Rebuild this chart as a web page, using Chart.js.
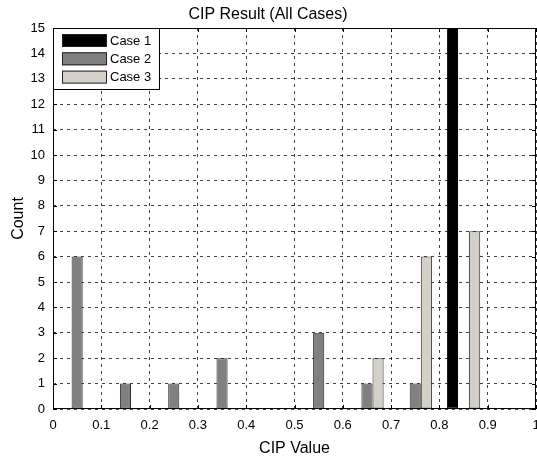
<!DOCTYPE html>
<html>
<head>
<meta charset="utf-8">
<script src="https://cdn.jsdelivr.net/npm/chart.js@4.4.0/dist/chart.umd.min.js"></script>
<style>
  html, body { margin: 0; padding: 0; background: #fff; }
  #wrap { width: 537px; height: 458px; }
</style>
</head>
<body>
<div id="wrap"><canvas id="cipChart"></canvas></div>
<script>
// histogram bins (centres) and counts per case
const binCenters = ["0.05", "0.15", "0.25", "0.35", "0.45", "0.55", "0.65", "0.75", "0.85", "0.95"];
const case1 = [0, 0, 0, 0, 0, 0, 0, 0, 15, 0];
const case2 = [6, 1, 1, 2, 0, 3, 1, 1, 0, 0];
const case3 = [0, 0, 0, 0, 0, 0, 2, 6, 7, 0];
const xTickLabels = ["0", "0.1", "0.2", "0.3", "0.4", "0.5", "0.6", "0.7", "0.8", "0.9", "1"];

const fontFamily = "'Liberation Sans', Arial, sans-serif";

// box round the axes, inward tick marks and the boxed legend (matlab look)
const frame = {
  id: "frame",
  afterDatasetsDraw(chart) {
    const { ctx, chartArea: a, scales } = chart;
    ctx.save();
    ctx.strokeStyle = "#000";
    ctx.lineWidth = 1;
    ctx.beginPath();
    scales.y.ticks.forEach((t) => {
      const py = Math.round(scales.y.getPixelForValue(t.value)) + 0.5;
      ctx.moveTo(a.left, py); ctx.lineTo(a.left + 4, py);
      ctx.moveTo(a.right, py); ctx.lineTo(a.right - 4, py);
    });
    scales.x2.ticks.forEach((t) => {
      const px = Math.round(scales.x2.getPixelForValue(t.value)) + 0.5;
      ctx.moveTo(px, a.bottom); ctx.lineTo(px, a.bottom - 4);
      ctx.moveTo(px, a.top); ctx.lineTo(px, a.top + 4);
    });
    ctx.stroke();
    ctx.strokeRect(a.left + 0.5, a.top + 0.5, a.right - a.left - 1, a.bottom - a.top - 1);

    // legend
    const lx = a.left + 0.5, ly = a.top + 0.5;
    ctx.fillStyle = "#fff";
    ctx.fillRect(lx, ly, 106, 61);
    ctx.strokeRect(lx, ly, 106, 61);
    ctx.font = "13px " + fontFamily;
    ctx.textBaseline = "middle";
    chart.data.datasets.forEach((ds, i) => {
      const sy = a.top + 6 + i * 18.3;
      ctx.fillStyle = ds.backgroundColor;
      ctx.fillRect(a.left + 9, sy, 45, 13);
      ctx.strokeStyle = "#222";
      ctx.strokeRect(a.left + 9.5, sy + 0.5, 44, 12);
      ctx.fillStyle = "#000";
      ctx.fillText(ds.label, a.left + 57, sy + 7);
    });
    ctx.restore();
  },
};

const barStyle = {
  borderWidth: 1,
  borderSkipped: false,
  categoryPercentage: 0.69,
  barPercentage: 1.0,
  xAxisID: "x",
};

const data = {
  labels: binCenters,
  datasets: [
    { label: "Case 1", data: case1, backgroundColor: "#000000", borderColor: "#000000", ...barStyle },
    { label: "Case 2", data: case2, backgroundColor: "#808080", borderColor: "#2e2e2e", ...barStyle },
    { label: "Case 3", data: case3, backgroundColor: "#d4d0c8", borderColor: "#2e2e2e", ...barStyle },
  ],
};

const config = {
  type: "bar",
  data: data,
  options: {
    responsive: true,
    maintainAspectRatio: false,
    animation: false,
    layout: { padding: { left: 0, right: 1, top: 0, bottom: 0 } },
    plugins: {
      legend: { display: false },
      tooltip: { enabled: false },
      title: {
        display: true,
        text: "CIP Result (All Cases)",
        color: "#000",
        font: { family: fontFamily, size: 16, weight: "normal" },
        padding: { top: 5, bottom: 3.8 },
      },
    },
    scales: {
      x: {
        type: "category",
        display: false,
        offset: true,
      },
      x2: {
        type: "linear",
        position: "bottom",
        axis: "x",
        min: 0,
        max: 1,
        offset: false,
        ticks: {
          stepSize: 0.1,
          color: "#000",
          padding: 9,
          maxRotation: 0,
          autoSkip: false,
          font: { family: fontFamily, size: 13 },
          callback: (value, index) => xTickLabels[index],
        },
        grid: { color: "rgba(0,0,0,0.75)", lineWidth: 1, drawTicks: false, offset: false },
        border: { display: false, dash: [3, 4] },
        title: {
          display: true,
          text: "CIP Value",
          color: "#000",
          font: { family: fontFamily, size: 16 },
          padding: { top: 0, bottom: 0 },
        },
        afterFit: (scale) => {
          scale.height = 49;
          scale.paddingLeft = 0;
          scale.paddingRight = 0;
        },
      },
      y: {
        min: 0,
        max: 15,
        ticks: {
          stepSize: 1,
          color: "#000",
          padding: 8,
          font: { family: fontFamily, size: 13 },
        },
        grid: { color: "rgba(0,0,0,0.75)", lineWidth: 1, drawTicks: false },
        border: { display: false, dash: [3, 4] },
        title: {
          display: true,
          text: "Count",
          color: "#000",
          font: { family: fontFamily, size: 16 },
          padding: { top: 9, bottom: 0 },
        },
        afterFit: (scale) => {
          scale.width = 53;
          scale.paddingTop = 0;
          scale.paddingBottom = 0;
        },
      },
    },
  },
  plugins: [frame],
};

const cipChart = new Chart(document.getElementById("cipChart"), config);
</script>
</body>
</html>
